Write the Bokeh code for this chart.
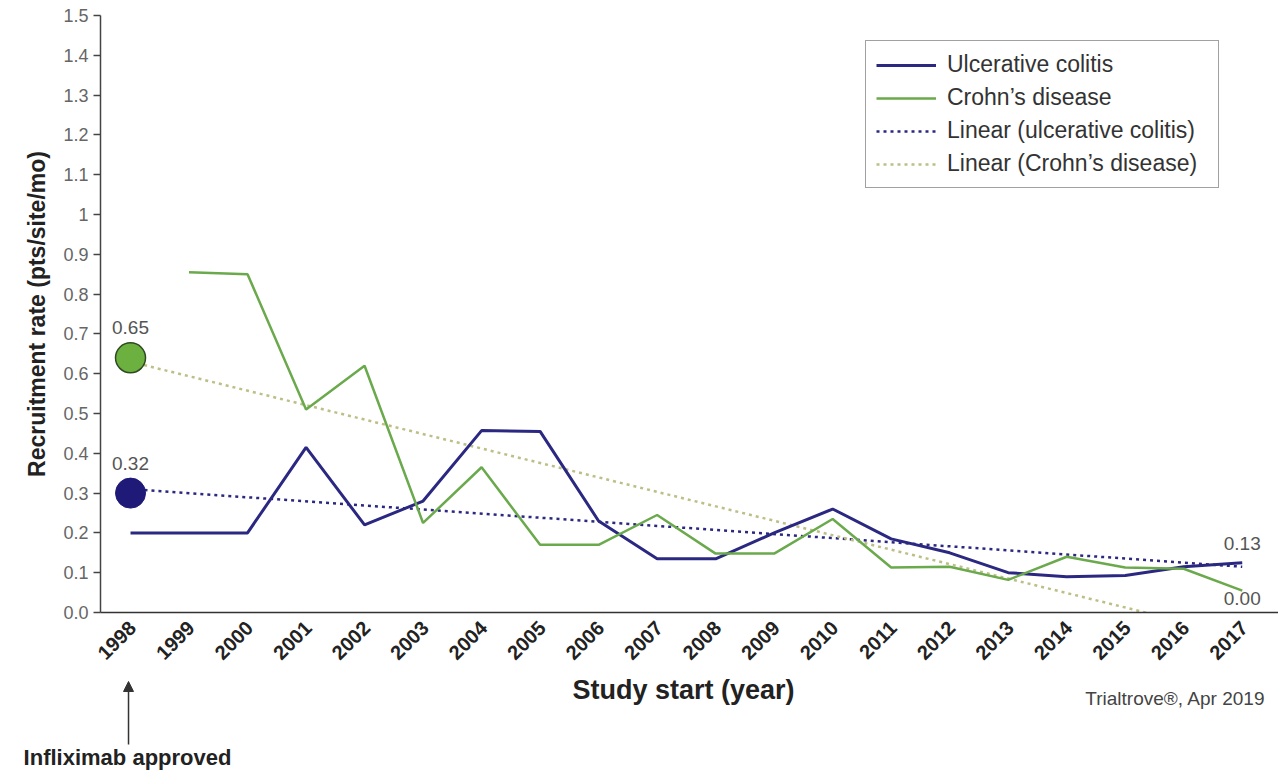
from bokeh.plotting import figure
from bokeh.models import (Range1d, FixedTicker, Legend, LegendItem, Label, Arrow,
                          NormalHead)
from bokeh.core.properties import value
from bokeh.embed import file_html
from bokeh.resources import INLINE

# ---------------- data ----------------
years = [1998, 1999, 2000, 2001, 2002, 2003, 2004, 2005, 2006, 2007,
         2008, 2009, 2010, 2011, 2012, 2013, 2014, 2015, 2016, 2017]
uc_rate = [0.20, 0.20, 0.20, 0.415, 0.22, 0.28, 0.457, 0.455, 0.23, 0.135,
           0.135, 0.20, 0.26, 0.185, 0.15, 0.10, 0.09, 0.093, 0.115, 0.125]
cd_years = [1999, 2000, 2001, 2002, 2003, 2004, 2005, 2006, 2007,
            2008, 2009, 2010, 2011, 2012, 2013, 2014, 2015, 2016, 2017]
cd_rate = [0.855, 0.85, 0.51, 0.62, 0.225, 0.365, 0.17, 0.17, 0.245,
           0.148, 0.148, 0.235, 0.113, 0.115, 0.082, 0.14, 0.113, 0.11, 0.055]

trend_years = [1998, 2017]
uc_trend = [0.31, 0.115]
cd_trend = [0.63, -0.06]

marker_year = [1998]
uc_marker = [0.30]
cd_marker = [0.64]
uc_start_label = "0.32"
cd_start_label = "0.65"
uc_end_label = "0.13"
cd_end_label = "0.00"
uc_end_value = 0.13
cd_end_value = 0.0

y_ticks = [0.0, 0.1, 0.2, 0.3, 0.4, 0.5, 0.6, 0.7, 0.8, 0.9, 1.0, 1.1, 1.2, 1.3, 1.4, 1.5]
y_tick_labels = ["0.0", "0.1", "0.2", "0.3", "0.4", "0.5", "0.6", "0.7", "0.8", "0.9",
                 "1", "1.1", "1.2", "1.3", "1.4", "1.5"]

series_names = ["Ulcerative colitis", "Crohn\u2019s disease",
                "Linear (ulcerative colitis)", "Linear (Crohn\u2019s disease)"]
x_title = "Study start (year)"
y_title = "Recruitment rate (pts/site/mo)"
source_note = "Trialtrove\u00ae, Apr 2019"
event_note = "Infliximab approved"
event_year = 1998

# ---------------- style / layout ----------------
FONT = "Liberation Sans"
BLUE = "#2b2882"
GREEN = "#6aa94c"
GREEN_DOT = "#bcbf86"

W = 1278
H1 = 672          # main chart height
H2 = 98           # annotation strip height
BL, BR, BT, BB = 100, 0, 15, 60
x0, x1 = 1997.487, 2017.62
y0, y1 = 0.0, 1.5
frame_h = H1 - BT - BB
py = (y1 - y0) / frame_h                 # data units per pixel (y)
pxpy = (W - BL - BR) / (x1 - x0)         # pixels per year
label_shift = 2 / pxpy                   # rotated year labels sit slightly right

p = figure(width=W, height=H1, output_backend="svg", toolbar_location=None,
           x_range=Range1d(x0, x1), y_range=Range1d(y0, y1),
           min_border_left=BL, min_border_right=BR, min_border_top=BT,
           min_border_bottom=BB, background_fill_color="white",
           border_fill_color="white", outline_line_color=None)
p.grid.visible = False

# x axis
xa = p.xaxis[0]
tick_pos = [y + label_shift for y in years]
xa.ticker = FixedTicker(ticks=tick_pos)
xa.major_label_overrides = {t: str(y) for t, y in zip(tick_pos, years)}
xa.major_label_orientation = 0.785398
xa.major_tick_out = 0
xa.major_tick_in = 0
xa.minor_tick_out = 0
xa.minor_tick_in = 0
xa.axis_line_color = "#333333"
xa.axis_line_width = 1.5
xa.major_label_text_font = FONT
xa.major_label_text_font_style = "bold"
xa.major_label_text_font_size = "20px"
xa.major_label_text_color = "#222222"
xa.major_label_standoff = 12

# y axis
ya = p.yaxis[0]
ya.ticker = FixedTicker(ticks=y_ticks)
ya.major_label_overrides = dict(zip(y_ticks, y_tick_labels))
ya.minor_tick_out = 0
ya.minor_tick_in = 0
ya.major_tick_out = 7
ya.major_tick_in = 0
ya.major_tick_line_color = "#444444"
ya.major_tick_line_width = 1.5
ya.axis_line_color = "#444444"
ya.axis_line_width = 1.5
ya.major_label_text_font = FONT
ya.major_label_text_font_size = "18px"
ya.major_label_text_color = "#666666"
ya.major_label_standoff = 5
ya.axis_label = y_title
ya.axis_label_text_font = FONT
ya.axis_label_text_font_style = "bold"
ya.axis_label_text_font_size = "23px"
ya.axis_label_text_color = "#222222"
ya.axis_label_standoff = 10

# trend lines
r_uct = p.line(trend_years, uc_trend, line_color=BLUE, line_width=2.5, line_dash="3 4")
r_cdt = p.line(trend_years, cd_trend, line_color=GREEN_DOT, line_width=2.5, line_dash="3 4")

# series
r_uc = p.line(years, uc_rate, line_color=BLUE, line_width=3)
r_cd = p.line(cd_years, cd_rate, line_color=GREEN, line_width=2.5)

# start markers
p.scatter(marker_year, cd_marker, size=30, fill_color="#6cb040", line_color="#2e4a22", line_width=1.5)
p.scatter(marker_year, uc_marker, size=30, fill_color="#1f1a78", line_color="#1f1a78", line_width=1)

def txt(x, y, s, size="19px", color="#555555", align="center"):
    p.add_layout(Label(x=x, y=y, text=s, text_font=FONT, text_font_size=size,
                       text_color=color, text_align=align, text_baseline="middle"))

txt(marker_year[0], cd_marker[0] + 30 * py, cd_start_label)
txt(marker_year[0], uc_marker[0] + 30 * py, uc_start_label)
txt(years[-1], uc_end_value + 17 * py, uc_end_label)
txt(years[-1], cd_end_value + 14 * py, cd_end_label)

legend = Legend(items=[LegendItem(label=series_names[0], renderers=[r_uc]),
                       LegendItem(label=series_names[1], renderers=[r_cd]),
                       LegendItem(label=series_names[2], renderers=[r_uct]),
                       LegendItem(label=series_names[3], renderers=[r_cdt])],
                location=(765, 424))
legend.label_text_font = FONT
legend.label_text_font_size = "23px"
legend.label_text_color = "#333333"
legend.glyph_width = 60
legend.glyph_height = 22
legend.label_height = 22
legend.label_width = 261
legend.spacing = 6
legend.padding = 10
legend.margin = 0
legend.label_standoff = 11
legend.border_line_color = "#444444"
legend.border_line_width = 1.5
legend.background_fill_color = "white"
legend.background_fill_alpha = 1.0
p.add_layout(legend)

# ---------------- annotation strip below the axis (separate root, full-width frame) ----------------
xs = x0 - BL / pxpy
p2 = figure(width=W, height=H2, output_backend="svg", toolbar_location=None,
            x_range=Range1d(xs, x1), y_range=Range1d(H1 + H2, H1),
            x_axis_location=None, y_axis_location=None,
            min_border=0, background_fill_color="white",
            border_fill_color="white", outline_line_color=None)
p2.grid.visible = False

def px_to_year(xpix):
    return xs + xpix / pxpy

p2.text(x=[px_to_year(683)], y=[689], text=[x_title], text_font=value(FONT),
        text_font_size="27px", text_font_style="bold", text_color="#222222",
        text_align="center", text_baseline="middle")
p2.text(x=[px_to_year(1265)], y=[698], text=[source_note], text_font=value(FONT),
        text_font_size="19px", text_color="#444444",
        text_align="right", text_baseline="middle")
p2.add_layout(Arrow(end=NormalHead(size=10, fill_color="#333333", line_color="#333333"),
                    x_start=event_year - 2 / pxpy, y_start=744,
                    x_end=event_year - 2 / pxpy, y_end=681,
                    line_color="#333333", line_width=1.5))
p2.text(x=[event_year - 3 / pxpy], y=[757], text=[event_note], text_font=value(FONT),
        text_font_size="22px", text_font_style="bold", text_color="#222222",
        text_align="center", text_baseline="middle")

open("out.html", "w").write(file_html([p, p2], INLINE))
